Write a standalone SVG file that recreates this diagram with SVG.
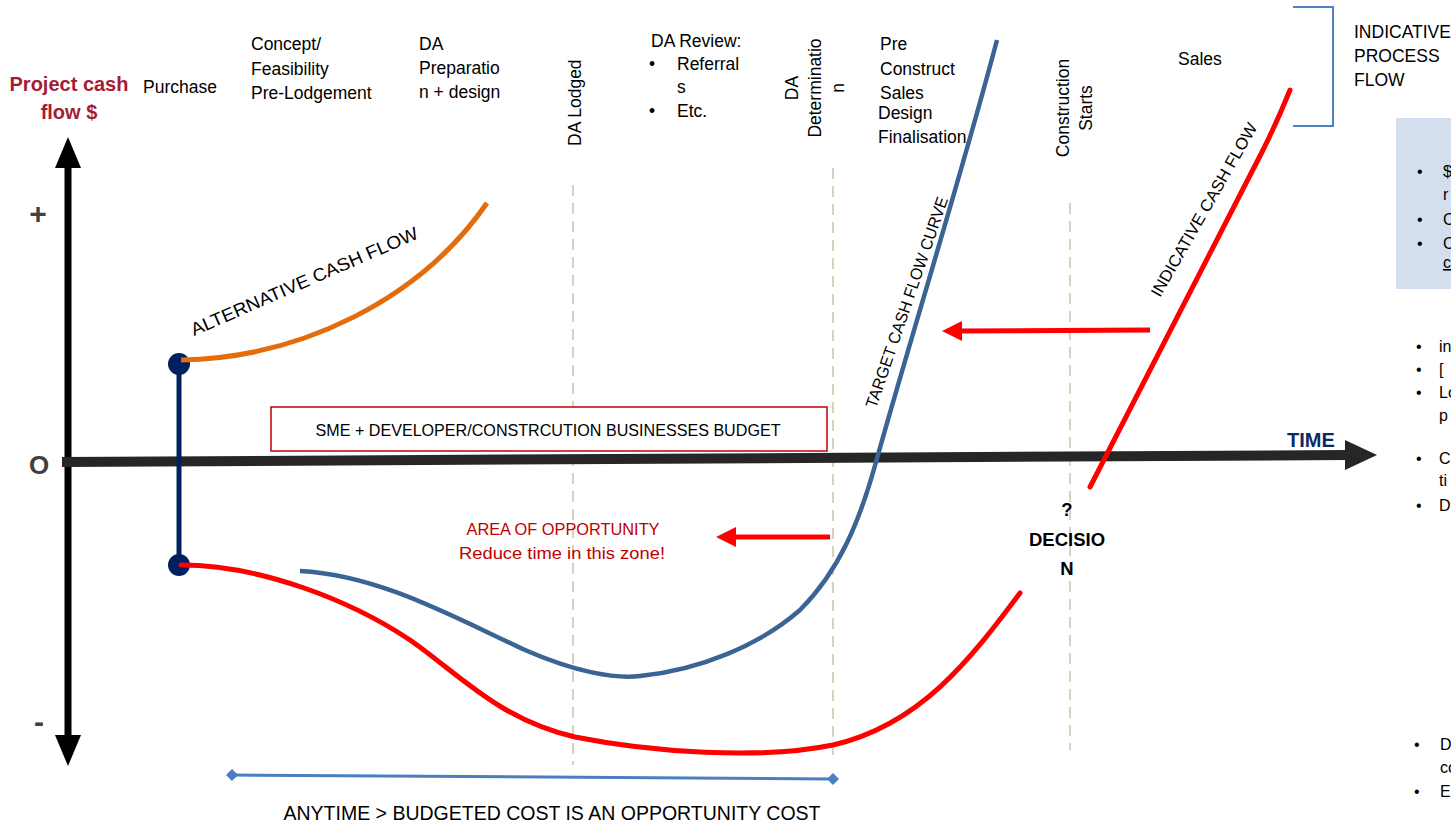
<svg xmlns="http://www.w3.org/2000/svg" width="1451" height="824" viewBox="0 0 1451 824">
<style>
text{font-family:"Liberation Sans",Arial,sans-serif;fill:#000}
.lbl{font-size:17.5px}
.sm{font-size:16px}
.guide{stroke:#d9d3bd;stroke-width:2;stroke-dasharray:11 7;fill:none}
.red{fill:none;stroke:#ff0000;stroke-width:5;stroke-linecap:round}
.redtx{fill:#c00000;font-size:17px}
.bold{font-weight:bold}
</style>
<defs>
<marker id="dia" viewBox="-6 -6 12 12" markerWidth="12" markerHeight="12" refX="0" refY="0" markerUnits="userSpaceOnUse" orient="auto"><path d="M-6,0 L0,-6 L6,0 L0,6 Z" fill="#4a7ebf"/></marker>
</defs>
<rect width="1451" height="824" fill="#fff"/>

<g id="guides">
<line class="guide" x1="573" y1="185" x2="573" y2="765"/>
<line class="guide" x1="833" y1="168" x2="833" y2="760"/>
<line class="guide" x1="1070" y1="203" x2="1070" y2="750"/>
</g>

<g id="axes">
<line x1="68" y1="162" x2="68" y2="742" stroke="#000" stroke-width="7"/>
<polygon points="68,137 55,168 81,168" fill="#000"/>
<polygon points="68,766 55,735 81,735" fill="#000"/>
<line x1="62" y1="462" x2="1348" y2="455" stroke="#262626" stroke-width="10"/>
<polygon points="1377,455 1345,440 1345,470" fill="#262626"/>
<text x="1287" y="447" class="bold" font-size="20" style="fill:#0d2a66">TIME</text>
<text x="38" y="224" class="bold" font-size="30" text-anchor="middle" style="fill:#404040">+</text>
<text x="39" y="474" class="bold" font-size="26" text-anchor="middle" style="fill:#404040">O</text>
<text x="39" y="732" class="bold" font-size="30" text-anchor="middle" style="fill:#404040">-</text>
<text x="69" y="91" class="bold" font-size="20" text-anchor="middle" style="fill:#a61c36">Project cash</text>
<text x="69" y="119" class="bold" font-size="20" text-anchor="middle" style="fill:#a61c36">flow $</text>
</g>

<g id="phase-labels">
<text class="lbl" x="143" y="93">Purchase</text>
<text class="lbl" x="251" y="50">Concept/</text>
<text class="lbl" x="251" y="75">Feasibility</text>
<text class="lbl" x="251" y="99">Pre-Lodgement</text>
<text class="lbl" x="419" y="50">DA</text>
<text class="lbl" x="419" y="74">Preparatio</text>
<text class="lbl" x="419" y="98">n + design</text>
<text class="lbl" transform="translate(581,146) rotate(-90)">DA Lodged</text>
<text class="lbl" x="651" y="47">DA Review:</text>
<text class="lbl" x="649" y="70">•</text>
<text class="lbl" x="677" y="70">Referral</text>
<text class="lbl" x="677" y="93">s</text>
<text class="lbl" x="649" y="117">•</text>
<text class="lbl" x="677" y="117">Etc.</text>
<text class="lbl" text-anchor="middle" transform="translate(798,88) rotate(-90)"><tspan x="0" y="0">DA</tspan><tspan x="0" dy="23">Determinatio</tspan><tspan x="0" dy="23">n</tspan></text>
<text class="lbl" x="880" y="50">Pre</text>
<text class="lbl" x="880" y="75">Construct</text>
<text class="lbl" x="880" y="99">Sales</text>
<text class="lbl" x="878" y="119">Design</text>
<text class="lbl" x="878" y="143">Finalisation</text>
<text class="lbl" text-anchor="middle" transform="translate(1069,108) rotate(-90)"><tspan x="0" y="0">Construction</tspan><tspan x="0" dy="23">Starts</tspan></text>
<text class="lbl" x="1178" y="65">Sales</text>
</g>

<g id="process-bracket">
<polyline points="1293,7 1333,7 1333,126 1293,126" fill="none" stroke="#4f81bd" stroke-width="2"/>
<text class="lbl" x="1354" y="38">INDICATIVE</text>
<text class="lbl" x="1354" y="62">PROCESS</text>
<text class="lbl" x="1354" y="86">FLOW</text>
</g>

<g id="side-notes">
<rect x="1396" y="118" width="60" height="171" fill="#d3dfee"/>
<text class="sm" x="1417" y="177">•</text><text class="sm" x="1443" y="177">$</text>
<text class="sm" x="1443" y="200">r</text>
<text class="sm" x="1417" y="225">•</text><text class="sm" x="1443" y="225">C</text>
<text class="sm" x="1417" y="249">•</text><text class="sm" x="1443" y="249">C</text>
<text class="sm" x="1443" y="268" text-decoration="underline">c</text>
<text class="sm" x="1416" y="352">•</text><text class="sm" x="1439" y="352">in</text>
<text class="sm" x="1416" y="375">•</text><text class="sm" x="1439" y="375">[</text>
<text class="sm" x="1416" y="398">•</text><text class="sm" x="1439" y="398">Lo</text>
<text class="sm" x="1439" y="421">p</text>
<text class="sm" x="1416" y="464">•</text><text class="sm" x="1439" y="464">C</text>
<text class="sm" x="1439" y="486">ti</text>
<text class="sm" x="1416" y="511">•</text><text class="sm" x="1439" y="511">D</text>
<text class="sm" x="1414" y="750">•</text><text class="sm" x="1440" y="750">D</text>
<text class="sm" x="1440" y="773">co</text>
<text class="sm" x="1414" y="797">•</text><text class="sm" x="1440" y="797">E</text>
</g>

<g id="budget-box">
<rect x="271" y="407" width="556" height="44" fill="#fff" stroke="#c00000" stroke-width="1.5"/>
<text x="548" y="436" font-size="17" text-anchor="middle" textLength="465" lengthAdjust="spacingAndGlyphs">SME + DEVELOPER/CONSTRCUTION BUSINESSES BUDGET</text>
</g>

<g id="purchase-bar">
<line x1="179" y1="364" x2="179" y2="565" stroke="#002060" stroke-width="5"/>
<circle cx="179" cy="364" r="11" fill="#002060"/>
<circle cx="179" cy="565" r="11" fill="#002060"/>
</g>

<g id="alternative-cash-flow">
<path d="M181,360 C300,358 420,300 487,203" fill="none" stroke="#e46c0a" stroke-width="5"/>
<text font-size="18" transform="translate(194,336) rotate(-23.5)" textLength="246" lengthAdjust="spacingAndGlyphs">ALTERNATIVE CASH FLOW</text>
</g>

<g id="target-cash-flow">
<path d="M300,571 C380,575 455,618 525,650 C575,672 615,679 640,676 C700,670 760,645 800,610 C840,570 860,520 876,462 C910,340 960,180 997,40" fill="none" stroke="#3a6494" stroke-width="4.5"/>
<text font-size="16.5" transform="translate(876,409) rotate(-71)" textLength="222" lengthAdjust="spacingAndGlyphs">TARGET CASH FLOW CURVE</text>
</g>

<g id="indicative-cash-flow">
<path class="red" d="M181,565 C260,565 350,600 410,640 C460,675 500,720 575,737 C650,752 760,760 833,745 C920,725 970,660 1020,593"/>
<path class="red" d="M1090,487 L1262,152 Q1278,120 1290,90"/>
<text font-size="16.5" transform="translate(1160,298) rotate(-60.2)" textLength="197" lengthAdjust="spacingAndGlyphs">INDICATIVE CASH FLOW</text>
</g>

<g id="connectors">
<line x1="1150" y1="330" x2="958" y2="331" stroke="#ff0000" stroke-width="5"/>
<polygon points="942,331 962,321 962,341" fill="#ff0000"/>
<line x1="830" y1="537" x2="732" y2="537" stroke="#ff0000" stroke-width="5"/>
<polygon points="716,537 736,527 736,547" fill="#ff0000"/>
</g>

<g id="opportunity">
<text class="redtx" x="563" y="535" text-anchor="middle" textLength="193" lengthAdjust="spacingAndGlyphs" style="fill:#c00000">AREA OF OPPORTUNITY</text>
<text class="redtx" x="562" y="559" text-anchor="middle" textLength="206" lengthAdjust="spacingAndGlyphs" style="fill:#c00000">Reduce time in this zone!</text>
</g>

<g id="decision">
<text class="bold" font-size="18.5" x="1067" y="516" text-anchor="middle">?</text>
<text class="bold" font-size="18.5" x="1067" y="546" text-anchor="middle">DECISIO</text>
<text class="bold" font-size="18.5" x="1067" y="575" text-anchor="middle">N</text>
</g>

<g id="opportunity-cost">
<line x1="232" y1="775" x2="833" y2="779" stroke="#4a7ebf" stroke-width="3" marker-start="url(#dia)" marker-end="url(#dia)"/>
<text x="552" y="820" font-size="21" text-anchor="middle" textLength="537" lengthAdjust="spacingAndGlyphs">ANYTIME &gt; BUDGETED COST IS AN OPPORTUNITY COST</text>
</g>
</svg>
